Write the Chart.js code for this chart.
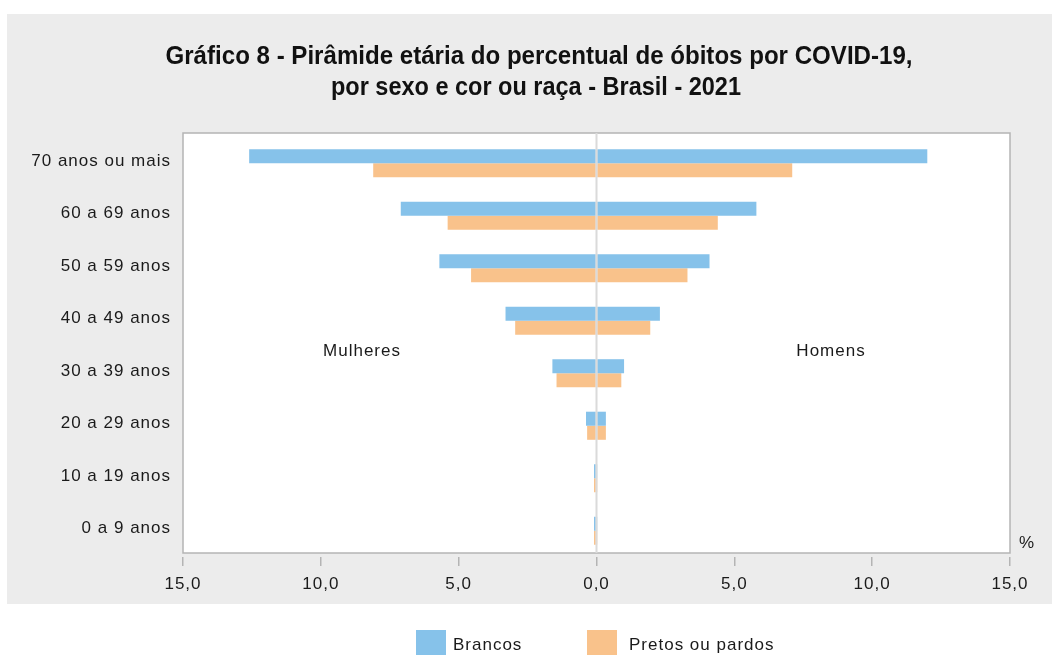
<!DOCTYPE html>
<html>
<head>
<meta charset="utf-8">
<script src="https://cdn.jsdelivr.net/npm/chart.js@4"></script>
<style>
  html, body { margin: 0; padding: 0; background: #fff; }
  #wrap { width: 1052px; height: 655px; position: relative; }
</style>
</head>
<body>
<div id="wrap"><canvas id="piramide" width="1052" height="655"></canvas></div>
<script>
// faixas etarias (de cima para baixo)
var faixas = ['70 anos ou mais', '60 a 69 anos', '50 a 59 anos', '40 a 49 anos',
              '30 a 39 anos', '20 a 29 anos', '10 a 19 anos', '0 a 9 anos'];

// percentual de obitos (%)
var mulheresBrancos = [12.6, 7.1, 5.7, 3.3, 1.6, 0.38, 0.09, 0.09];
var homensBrancos   = [12.0, 5.8, 4.1, 2.3, 1.0, 0.34, 0.02, 0.02];
var mulheresPretos  = [8.1, 5.4, 4.55, 2.95, 1.45, 0.34, 0.09, 0.09];
var homensPretos    = [7.1, 4.4, 3.3, 1.95, 0.9, 0.34, 0.02, 0.02];

var ticksX = [-15, -10, -5, 0, 5, 10, 15];

var azul = '#86c2ea';
var laranja = '#f9c28b';
var fonte = '"Liberation Sans", Arial, sans-serif';

function neg(arr){ return arr.map(function(v){ return -v }) }

// desenha fundo cinza, area branca, titulo, rotulos e legenda
// (a moldura fica 4px acima da area do grafico, como no original)
const extras = {
  id: 'extras',
  beforeDraw(chart){
    const ctx = chart.ctx;
    const a = chart.chartArea;
    ctx.save();
    ctx.fillStyle = '#fff';
    ctx.fillRect(0, 0, chart.width, chart.height);
    ctx.fillStyle = '#ececec';
    ctx.fillRect(7, 14, chart.width - 7, 590);
    ctx.fillStyle = '#fff';
    ctx.fillRect(a.left, a.top - 4, a.right - a.left, a.bottom - a.top);
    ctx.strokeStyle = '#b4b4b4';
    ctx.lineWidth = 1.5;
    ctx.strokeRect(a.left, a.top - 4, a.right - a.left, a.bottom - a.top);

    ctx.fillStyle = '#111';
    ctx.font = 'bold 25px ' + fonte;
    ctx.textAlign = 'center';
    ctx.textBaseline = 'middle';
    ctx.fillText('Gráfico 8 - Pirâmide etária do percentual de óbitos por COVID-19,', 539, 57, 747);
    ctx.fillText('por sexo e cor ou raça - Brasil - 2021', 536, 88, 410);
    ctx.restore();
    ctx.letterSpacing = '1px';
  },
  afterDatasetsDraw(chart){
    const ctx = chart.ctx;
    const a = chart.chartArea;
    const x0 = chart.scales.x.getPixelForValue(0);
    ctx.save();
    ctx.strokeStyle = '#dadada';
    ctx.lineWidth = 2;
    ctx.beginPath();
    ctx.moveTo(x0, a.top - 4);
    ctx.lineTo(x0, a.bottom - 4);
    ctx.stroke();

    ctx.fillStyle = '#1a1a1a';
    ctx.font = '17px ' + fonte;
    ctx.letterSpacing = '1px';
    ctx.textBaseline = 'middle';
    ctx.textAlign = 'center';
    ctx.fillText('Mulheres', 362, 351);
    ctx.fillText('Homens', 831, 351);
    ctx.fillText('%', 1027, 543);

    // legenda
    ctx.textAlign = 'left';
    ctx.fillStyle = azul;
    ctx.fillRect(416, 630, 30, 27);
    ctx.fillStyle = laranja;
    ctx.fillRect(587, 630, 30, 27);
    ctx.fillStyle = '#1a1a1a';
    ctx.fillText('Brancos', 453, 645);
    ctx.fillText('Pretos ou pardos', 629, 645);
    ctx.restore();
  }
};

const ctx = document.getElementById('piramide').getContext('2d');
const piramide = new Chart(ctx, {
  type: 'bar',
  data: {
    labels: faixas,
    datasets: [
      { label: 'Brancos', data: neg(mulheresBrancos), backgroundColor: azul, stack: 'b' },
      { label: 'Brancos H', data: homensBrancos, backgroundColor: azul, stack: 'b' },
      { label: 'Pretos ou pardos', data: neg(mulheresPretos), backgroundColor: laranja, stack: 'p' },
      { label: 'Pretos H', data: homensPretos, backgroundColor: laranja, stack: 'p' }
    ]
  },
  options: {
    indexAxis: 'y',
    responsive: false,
    animation: false,
    maintainAspectRatio: false,
    layout: { padding: { top: 137, right: 42, bottom: 50, left: 0 } },
    datasets: { bar: { categoryPercentage: 0.535, barPercentage: 1, borderSkipped: false } },
    plugins: {
      legend: { display: false },
      tooltip: { enabled: false }
    },
    scales: {
      x: {
        stacked: true,
        min: -15,
        max: 15,
        afterBuildTicks(scale){ scale.ticks = ticksX.map(function(v){ return { value: v } }) },
        afterFit(scale){ scale.height = 48 },
        border: { display: false },
        grid: { drawOnChartArea: false, drawTicks: true, tickLength: 9, color: '#b4b4b4', lineWidth: 1.5 },
        ticks: {
          color: '#1a1a1a',
          font: { family: fonte, size: 17 },
          padding: 8,
          maxRotation: 0,
          callback: function(v){ return Math.abs(v).toFixed(1).replace('.', ',') }
        }
      },
      y: {
        afterFit(scale){ scale.width = 183 },
        border: { display: false },
        grid: { display: false, drawTicks: false },
        ticks: {
          color: '#1a1a1a',
          font: { family: fonte, size: 17 },
          padding: 12,
          labelOffset: -2
        }
      }
    }
  },
  plugins: [extras]
});
</script>
</body>
</html>
